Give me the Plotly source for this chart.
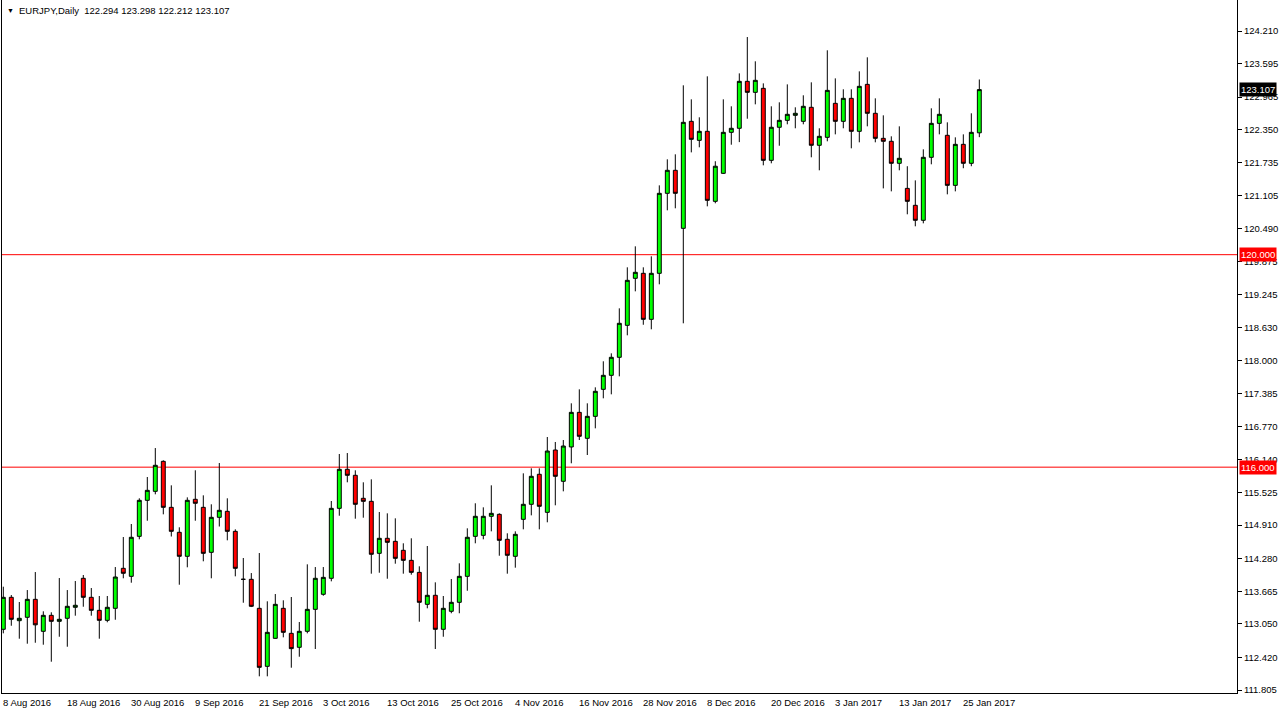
import pandas as pd
import plotly.graph_objects as go

# ---- data -------------------------------------------------------------
holidays = ["2016-12-26", "2017-01-02"]
dates = [d for d in pd.bdate_range("2016-08-08", "2017-01-27") if d.strftime("%Y-%m-%d") not in holidays]

open_ = [112.948, 113.550, 113.110, 113.174, 113.512, 112.910, 113.211, 113.098, 113.155, 113.362,
         113.908, 113.550, 113.305, 113.117, 113.343, 114.096, 113.945, 114.698, 115.376, 115.545,
         116.110, 115.244, 114.774, 114.322, 115.395, 115.244, 114.397, 115.056, 115.169, 114.792,
         113.889, 113.889, 113.343, 112.251, 112.778, 113.343, 112.872, 112.609, 112.910, 113.324,
         113.607, 113.908, 115.225, 115.960, 115.847, 115.414, 115.357, 114.378, 114.661, 114.604,
         114.435, 114.246, 114.020, 113.418, 113.588, 112.948, 113.287, 113.456, 113.945, 114.698,
         114.717, 115.075, 115.112, 114.642, 114.322, 115.018, 115.301, 115.866, 115.150, 116.323,
         115.734, 116.380, 117.032, 116.543, 116.957, 117.465, 117.729, 118.068, 118.670, 119.555,
         119.649, 118.783, 119.649, 121.155, 121.588, 120.496, 122.510, 122.152, 122.322, 121.004,
         121.531, 122.303, 122.379, 123.263, 123.056, 123.131, 121.776, 122.398, 122.529, 122.623,
         122.510, 122.774, 122.059, 122.209, 122.849, 122.510, 122.943, 122.322, 123.206, 122.661,
         122.190, 122.134, 121.720, 121.248, 120.929, 120.647, 121.833, 122.472, 122.247, 121.305,
         122.077, 121.720, 122.294]
high = [113.750, 113.593, 113.462, 113.687, 114.026, 113.287, 113.268, 113.913, 113.687, 113.857,
        113.970, 113.725, 113.575, 113.575, 114.120, 114.685, 114.930, 115.414, 115.815, 116.360,
        116.129, 115.658, 114.868, 115.432, 115.941, 115.470, 115.301, 116.078, 115.414, 114.830,
        114.290, 114.007, 114.384, 113.475, 113.612, 113.494, 113.556, 113.085, 114.171, 114.120,
        114.120, 115.363, 116.248, 116.266, 115.941, 115.715, 115.771, 115.156, 115.131, 115.037,
        114.567, 114.661, 114.134, 114.516, 113.832, 113.575, 113.894, 114.190, 114.849, 115.320,
        115.244, 115.658, 115.131, 114.755, 114.792, 115.884, 115.978, 115.978, 116.568, 116.474,
        116.511, 117.202, 117.465, 117.202, 117.503, 117.993, 118.143, 118.990, 119.762, 120.157,
        119.762, 119.969, 121.305, 121.795, 121.889, 123.188, 122.924, 122.586, 123.357, 121.759,
        122.924, 122.793, 123.413, 124.097, 123.640, 123.225, 122.793, 122.868, 123.206, 122.774,
        123.000, 123.244, 122.379, 123.847, 123.319, 123.113, 123.113, 123.451, 123.715, 122.943,
        122.623, 122.228, 122.416, 121.665, 121.399, 121.983, 122.755, 122.943, 122.491, 122.209,
        122.265, 122.661, 123.298]
low = [112.872, 113.015, 112.771, 112.677, 112.695, 112.658, 112.338, 112.808, 112.620, 113.204,
       113.373, 113.204, 112.771, 113.080, 113.128, 113.908, 113.825, 114.642, 114.992, 115.489,
       115.112, 114.695, 113.787, 114.115, 114.992, 114.228, 113.908, 114.883, 114.623, 113.945,
       113.448, 113.367, 112.063, 112.063, 112.770, 112.797, 112.225, 112.432, 112.872, 112.577,
       113.580, 113.851, 115.086, 115.715, 115.030, 115.049, 113.995, 114.013, 113.900, 114.183,
       113.995, 113.976, 113.091, 113.343, 112.577, 112.808, 113.250, 113.250, 113.674, 114.567,
       114.642, 114.792, 114.333, 113.995, 114.108, 114.830, 115.093, 114.830, 114.962, 115.282,
       115.545, 116.073, 116.511, 116.229, 116.731, 117.296, 117.371, 117.710, 118.482, 119.310,
       118.681, 118.595, 119.442, 120.835, 120.873, 118.708, 121.926, 122.021, 120.910, 120.967,
       121.520, 122.070, 122.119, 122.559, 122.830, 121.682, 121.720, 122.051, 122.454, 122.379,
       122.454, 121.833, 121.588, 122.134, 122.265, 122.379, 122.002, 122.115, 122.416, 122.115,
       121.248, 121.192, 121.588, 120.760, 120.534, 120.590, 121.701, 122.265, 121.136, 121.192,
       121.627, 121.665, 122.212]
close = [113.550, 113.136, 113.155, 113.512, 113.032, 113.211, 113.098, 113.136, 113.381, 113.400,
         113.550, 113.305, 113.117, 113.362, 113.932, 114.002, 114.680, 115.376, 115.564, 116.035,
         115.244, 114.792, 114.322, 115.376, 115.320, 114.378, 115.056, 115.188, 114.792, 114.096,
         113.889, 113.381, 112.232, 112.891, 113.418, 112.891, 112.584, 112.910, 113.324, 113.908,
         113.926, 115.225, 115.960, 115.847, 115.301, 115.357, 114.360, 114.661, 114.585, 114.284,
         114.246, 114.020, 113.456, 113.588, 112.948, 113.343, 113.456, 113.945, 114.680, 115.075,
         115.075, 115.131, 114.623, 114.341, 114.736, 115.301, 115.828, 115.263, 116.304, 115.828,
         116.398, 117.032, 116.581, 116.957, 117.428, 117.729, 118.068, 118.708, 119.517, 119.668,
         118.783, 119.649, 121.155, 121.588, 121.155, 122.491, 122.171, 122.322, 121.023, 121.665,
         122.303, 122.379, 123.263, 123.056, 123.282, 121.776, 122.398, 122.529, 122.642, 122.661,
         122.793, 122.059, 122.228, 123.093, 122.510, 122.943, 122.322, 123.169, 122.661, 122.190,
         122.134, 121.720, 121.814, 121.004, 120.647, 121.833, 122.472, 122.642, 121.305, 122.077,
         121.720, 122.303, 123.107]

price_ticks = [124.210, 123.595, 122.965, 122.350, 121.735, 121.105, 120.490, 119.875, 119.245,
               118.630, 118.000, 117.385, 116.770, 116.140, 115.525, 114.910, 114.280, 113.665,
               113.050, 112.420, 111.805]
levels = [120.000, 116.000]
date_tick_every = 8
symbol = "EURJPY,Daily"

# ---- figure -----------------------------------------------------------
idx = list(range(len(dates)))
FONT = "Liberation Sans, Arial, sans-serif"
FS = 9.5

fig = go.Figure()
fig.add_trace(go.Candlestick(
    x=idx, open=open_, high=high, low=low, close=close,
    increasing=dict(fillcolor="#00ff00", line=dict(color="#000000", width=1)),
    decreasing=dict(fillcolor="#ff0000", line=dict(color="#000000", width=1)),
    whiskerwidth=0, showlegend=False, hoverinfo="skip",
))

for lv in levels:
    fig.add_shape(type="line", xref="paper", x0=0, x1=1, yref="y", y0=lv, y1=lv,
                  line=dict(color="#ff0000", width=1), layer="below")
    fig.add_annotation(xref="paper", x=1, xanchor="left", xshift=2, yref="y", y=lv,
                       text=f"{lv:.3f}", showarrow=False, bgcolor="#ff0000",
                       font=dict(family=FONT, size=FS, color="#ffffff"), borderpad=1)

fig.add_annotation(xref="paper", x=1, xanchor="left", xshift=2, yref="y", y=close[-1],
                   text=f"{close[-1]:.3f}", showarrow=False, bgcolor="#000000",
                   font=dict(family=FONT, size=FS, color="#ffffff"), borderpad=1)

title = f"{symbol}  {open_[-1]:.3f} {high[-1]:.3f} {low[-1]:.3f} {close[-1]:.3f}"
fig.add_annotation(xref="paper", x=0, xanchor="left", xshift=3, yref="paper", y=1,
                   yanchor="top", yshift=-5, text="▼", showarrow=False,
                   font=dict(family=FONT, size=7, color="#000000"))
fig.add_annotation(xref="paper", x=0, xanchor="left", xshift=15, yref="paper", y=1,
                   yanchor="top", yshift=-3, text=title, showarrow=False,
                   font=dict(family=FONT, size=FS, color="#000000"))

for i in range(0, len(dates), date_tick_every):
    d = dates[i]
    fig.add_annotation(xref="x", x=i, xanchor="left", xshift=-2, yref="paper", y=0,
                       yanchor="top", yshift=-2, text=f"{d.day} {d.strftime('%b')} {d.year}",
                       showarrow=False, font=dict(family=FONT, size=FS, color="#000000"))

fig.update_layout(
    width=1282, height=715,
    margin=dict(l=2, r=45, t=0, b=22),
    paper_bgcolor="#ffffff", plot_bgcolor="#ffffff",
    boxgap=0.3,
    font=dict(family=FONT, size=FS, color="#000000"),
    xaxis=dict(range=[-0.1625, 154.21], showgrid=False, zeroline=False,
               showticklabels=False, ticks="", showline=True, linecolor="#000000",
               linewidth=1, rangeslider=dict(visible=False), fixedrange=True),
    yaxis=dict(range=[111.749, 124.794], side="right", showgrid=False, zeroline=False,
               tickvals=price_ticks, ticktext=[f"{v:.3f}" for v in price_ticks],
               ticks="outside", ticklen=4, tickcolor="#000000",
               showline=True, linecolor="#000000", linewidth=1, mirror=True,
               tickfont=dict(family=FONT, size=FS, color="#000000"), fixedrange=True),
)

fig.write_html("out.html", config={"displayModeBar": False},
               post_script="document.body.style.margin='0px';")
